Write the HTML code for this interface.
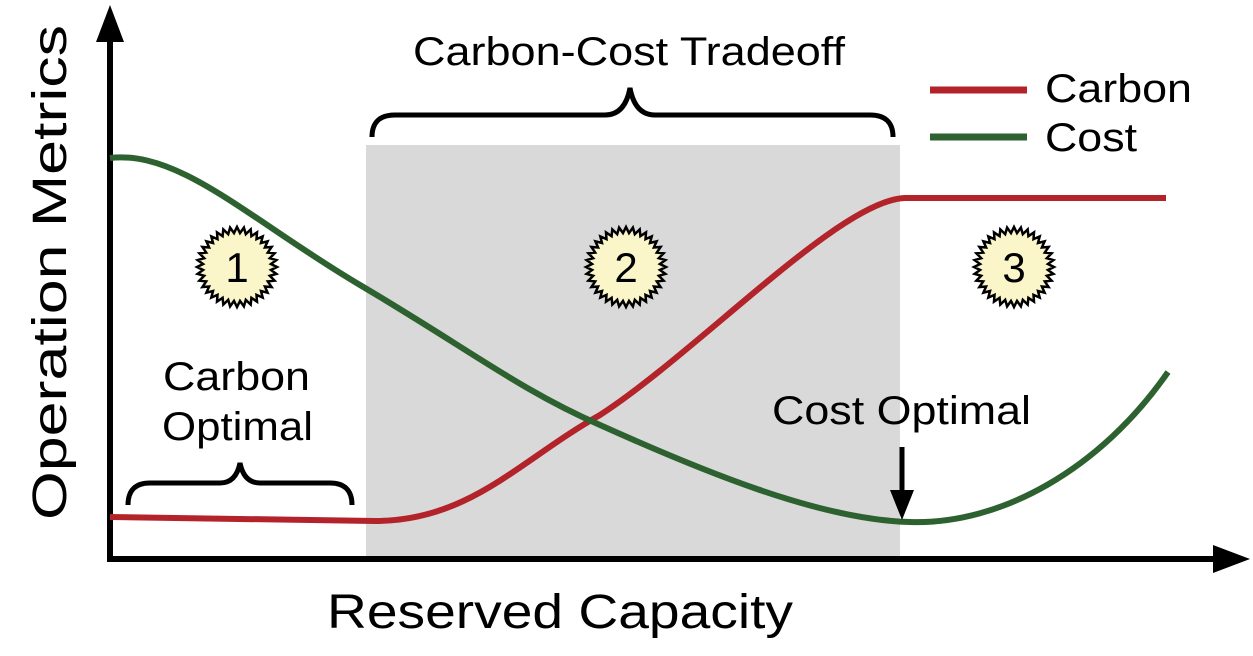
<!DOCTYPE html>
<html><head><style>body{margin:0;background:#fff}svg{display:block}text{font-family:"Liberation Sans",Arial,sans-serif;fill:#000}</style></head>
<body>
<svg width="1253" height="656" viewBox="0 0 1253 656" xmlns="http://www.w3.org/2000/svg">
<rect x="366" y="145" width="534" height="413" fill="#d9d9d9"/>
<line x1="110" y1="30" x2="110" y2="561" stroke="#000" stroke-width="6"/>
<polygon points="110,5 96,42 124,42" fill="#000"/>
<line x1="107" y1="559" x2="1225" y2="559" stroke="#000" stroke-width="6"/>
<polygon points="1250,559 1213,545 1213,573" fill="#000"/>
<path d="M110,517 L375,521 C470,521 520,460 600,415 C700,350 840,200 905,198 L1166,198" fill="none" stroke="#b3232a" stroke-width="6"/>
<path d="M110,158 C180,150 250,220 360,285 C470,350 520,390 600,425 C700,470 820,520 910,522 C1000,525 1100,470 1168,372" fill="none" stroke="#2d6230" stroke-width="6"/>
<path d="M372,137 Q372,115 395,115 L605,115 Q625,115 630,88 Q635,115 655,115 L870,115 Q893,115 893,137" fill="none" stroke="#000" stroke-width="5"/>
<path d="M128,505 Q128,483 150,483 L220,483 Q236,483 240,463 Q244,483 260,483 L330,483 Q352,483 352,505" fill="none" stroke="#000" stroke-width="5"/>
<line x1="902" y1="447" x2="902" y2="495" stroke="#000" stroke-width="5"/>
<polygon points="902,520 890,490 914,490" fill="#000"/>
<line x1="930" y1="90" x2="1027" y2="90" stroke="#b3232a" stroke-width="7"/>
<line x1="930" y1="137" x2="1027" y2="137" stroke="#2d6230" stroke-width="7"/>
<g id="badges" fill="#fbf6c9" stroke="#000" stroke-width="2.5"></g>
<text x="413" y="65" font-size="40" textLength="432" lengthAdjust="spacingAndGlyphs">Carbon-Cost Tradeoff</text>
<text x="1045" y="102" font-size="40" textLength="147" lengthAdjust="spacingAndGlyphs">Carbon</text>
<text x="1045" y="151" font-size="40" textLength="92" lengthAdjust="spacingAndGlyphs">Cost</text>
<text x="163" y="390" font-size="40" textLength="147" lengthAdjust="spacingAndGlyphs">Carbon</text>
<text x="162" y="440" font-size="40" textLength="151" lengthAdjust="spacingAndGlyphs">Optimal</text>
<text x="772" y="424" font-size="40" textLength="259" lengthAdjust="spacingAndGlyphs">Cost Optimal</text>
<text x="327" y="628" font-size="48" textLength="466" lengthAdjust="spacingAndGlyphs">Reserved Capacity</text>
<text transform="translate(66,520) rotate(-90)" font-size="48" textLength="495" lengthAdjust="spacingAndGlyphs">Operation Metrics</text>
<text x="237" y="282" font-size="42" text-anchor="middle">1</text>
<text x="626" y="282" font-size="42" text-anchor="middle">2</text>
<text x="1014" y="282" font-size="42" text-anchor="middle">3</text>
</svg>
<script>
(function(){var g=document.getElementById('badges');var cs=[[237,267],[626,267],[1014,267]];
cs.forEach(function(c){var p=[],n=36;for(var i=0;i<2*n;i++){var r=i%2?34:40,a=Math.PI*i/n;p.push((c[0]+r*Math.cos(a)).toFixed(1)+','+(c[1]+r*Math.sin(a)).toFixed(1));}
var e=document.createElementNS('http://www.w3.org/2000/svg','polygon');e.setAttribute('points',p.join(' '));g.appendChild(e);});})();
</script>
</body></html>
